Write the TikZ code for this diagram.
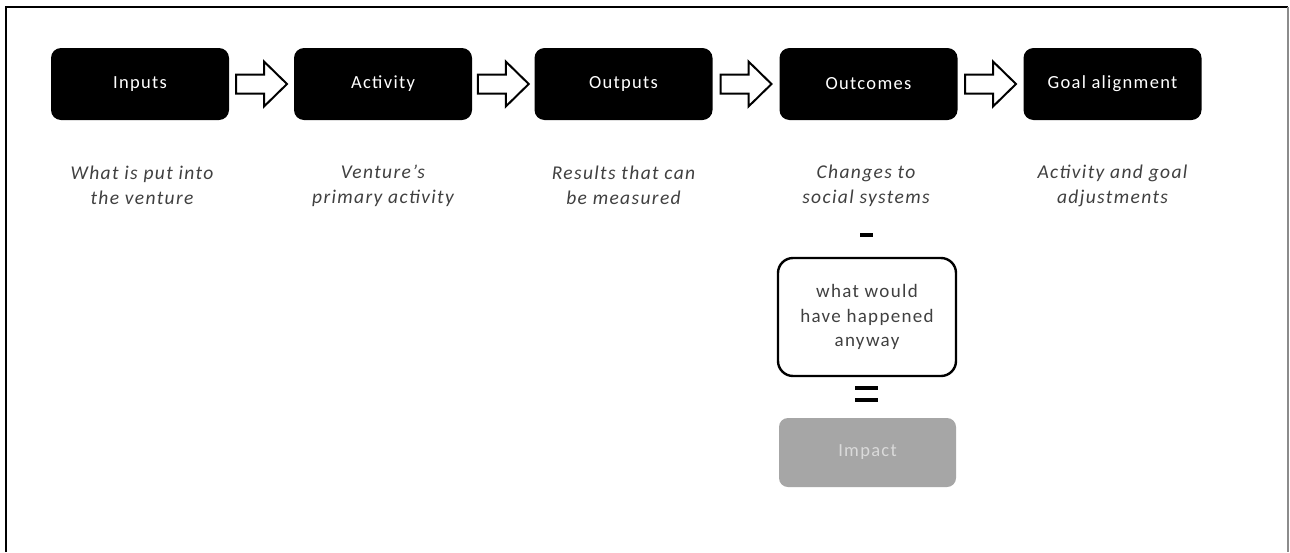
\documentclass[tikz,border=0pt]{standalone}
\usepackage{fontspec}
\setmainfont{Carlito}[LetterSpace=7]
\usetikzlibrary{calc}
\definecolor{txtgray}{HTML}{404040}
\definecolor{impactfill}{HTML}{A6A6A6}
\definecolor{impacttext}{HTML}{DADADA}
\definecolor{framegray}{HTML}{8C8C8C}
\tikzset{
  stagebox/.style={fill=black, rounded corners=10pt, minimum width=178pt, minimum height=72pt,
    inner sep=0pt, text=white, font=\fontsize{18.5}{22}\selectfont},
  desc/.style={align=center, text=txtgray, font=\fontsize{19.5}{25}\selectfont\itshape},
  blockarrow/.style={draw=black, line width=2pt, fill=white, line join=miter},
  bar/.style={fill=black, inner sep=0pt},
  counterbox/.style={draw=black, line width=2.4pt, rounded corners=15pt, fill=white,
    minimum width=178pt, minimum height=118pt, align=center, text=txtgray,
    font=\fontsize{19}{24.5}\selectfont},
  impactbox/.style={fill=impactfill, rounded corners=9pt, minimum width=177pt, minimum height=69pt,
    text=impacttext, font=\fontsize{18.5}{22}\selectfont}
}
\newcommand{\blockarrowbetween}[2]{%
  \draw[blockarrow] ($(#1.east)!0.5!(#2.west)$) ++(-25.5,-9.5) -- ++(28,0) -- ++(0,-13)
    -- ++(23,22.5) -- ++(-23,22.5) -- ++(0,-13) -- ++(-28,0) -- cycle;}
\begin{document}
\begin{tikzpicture}[x=1pt,y=-1pt]
\useasboundingbox (0,0) rectangle (1290,552);
\fill[white] (0,0) rectangle (1290,552);
% frame
\draw[line width=2pt, black] (6,552) -- (6,7) -- (1288,7);
\draw[line width=2pt, framegray] (1288,7) -- (1288,552);
% stages
\node[stagebox] (inputs) at (140,84) {Inputs};
\node[stagebox] (activity) at (383,84) {Activity};
\node[stagebox] (outputs) at (623.5,84) {Outputs};
\node[stagebox] (outcomes) at (868.5,84) {Outcomes};
\node[stagebox] (goal) at (1112.5,84) {Goal alignment};
% arrows
\blockarrowbetween{inputs}{activity}
\blockarrowbetween{activity}{outputs}
\blockarrowbetween{outputs}{outcomes}
\blockarrowbetween{outcomes}{goal}
% descriptions
\node[desc] (dinputs) at (142,185.5) {What is put into\\the venture};
\node[desc] (dactivity) at (383,185.5) {Venture’s\\primary activity};
\node[desc] (doutputs) at (623.5,185.5) {Results that can\\be measured};
\node[desc] (doutcomes) at (866,185.5) {Changes to\\social systems};
\node[desc] (dgoal) at (1112.5,185.5) {Activity and goal\\adjustments};
% minus
\node[bar, minimum width=13pt, minimum height=3.5pt] (minus) at (866.5,235) {};
% counterfactual box
\node[counterbox] (counter) at (867,317) {what would\\have happened\\anyway};
% equals
\node[bar, minimum width=23pt, minimum height=4pt] (eqtop) at (866.5,388) {};
\node[bar, minimum width=23pt, minimum height=4pt] (eqbot) at (866.5,400) {};
% impact
\node[impactbox] (impact) at (867.5,452.5) {Impact};
\end{tikzpicture}
\end{document}
